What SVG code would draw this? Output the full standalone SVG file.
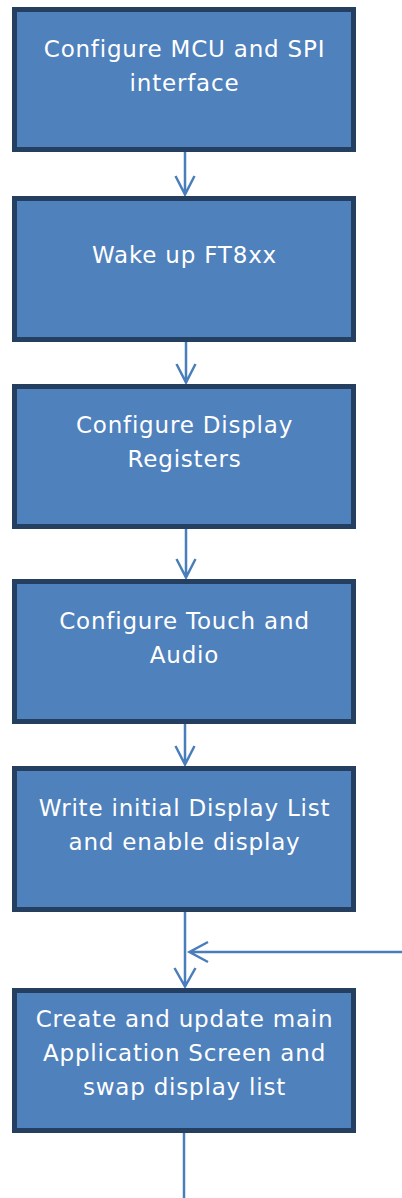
<svg xmlns="http://www.w3.org/2000/svg" width="402" height="1198" viewBox="0 0 402 1198">
<defs>
<style>
.box{fill:#4F81BD;stroke:#243F60;stroke-width:5}
.lbl{font-family:"DejaVu Sans","Verdana",sans-serif;font-size:23px;letter-spacing:0.8px;fill:#FFFFFF;text-anchor:middle}
.con{stroke:#4A7EBB;stroke-width:2.5;fill:none}
</style>
</defs>
<rect width="402" height="1198" fill="#FFFFFF"/>
<g id="connectors" class="con">
<path d="M185 152V194M175.5 176L185 194.5L194.5 176"/>
<path d="M186 342V382M176.5 364L186 382.5L195.5 364"/>
<path d="M186 529V577M176.5 559L186 577.5L195.5 559"/>
<path d="M185 724V764M175.5 746L185 764.5L194.5 746"/>
<path d="M185 912V986M174.5 968L185 986.5L195.5 968"/>
<path d="M402 952H190M208 942L189.5 952L208 962"/>
<path d="M184 1133V1198"/>
</g>
<g id="n1"><rect class="box" x="14.5" y="9.5" width="339" height="140"/><text class="lbl" x="184.5" y="57">Configure MCU and SPI</text><text class="lbl" x="184.5" y="91">interface</text></g>
<g id="n2"><rect class="box" x="14.5" y="198.5" width="339" height="141"/><text class="lbl" x="184.5" y="263">Wake up FT8xx</text></g>
<g id="n3"><rect class="box" x="14.5" y="386.5" width="339" height="140"/><text class="lbl" x="184.5" y="433">Configure Display</text><text class="lbl" x="184.5" y="467">Registers</text></g>
<g id="n4"><rect class="box" x="14.5" y="581.5" width="339" height="140"/><text class="lbl" x="184.5" y="629">Configure Touch and</text><text class="lbl" x="184.5" y="663">Audio</text></g>
<g id="n5"><rect class="box" x="14.5" y="768.5" width="339" height="141"/><text class="lbl" x="184.5" y="816">Write initial Display List</text><text class="lbl" x="184.5" y="850">and enable display</text></g>
<g id="n6"><rect class="box" x="14.5" y="990.5" width="339" height="140"/><text class="lbl" x="184.5" y="1027">Create and update main</text><text class="lbl" x="184.5" y="1061">Application Screen and</text><text class="lbl" x="184.5" y="1095">swap display list</text></g>
</svg>
